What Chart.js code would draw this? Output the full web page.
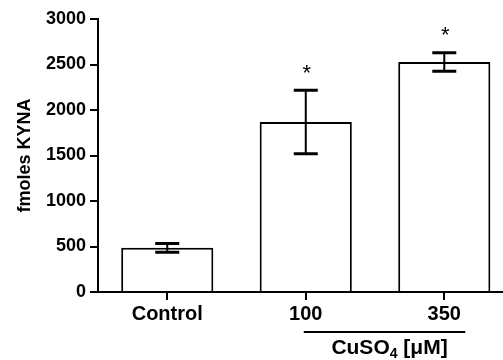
<!DOCTYPE html>
<html>
<head>
<meta charset="utf-8">
<title>KYNA</title>
<script src="https://cdn.jsdelivr.net/npm/chart.js@4.4.1/dist/chart.umd.min.js"></script>
<style>
  body { margin: 0; background: #fff; }
  #wrap { width: 503px; height: 360px; position: relative; }
</style>
</head>
<body>
<div id="wrap"><canvas id="kynaChart"></canvas></div>
<script>
const categories = ['Control', '100', '350'];
const means = [485, 1867, 2527];
const errors = [47, 349, 102];
const significance = ['', '*', '*'];
const yTicks = [0, 500, 1000, 1500, 2000, 2500, 3000];

const fontFamily = "'Liberation Sans', Arial, sans-serif";

// error bars + asterisks, drawn from the scales
const errorBars = {
    id: 'errorBars',
    afterDatasetsDraw(chart) {
        const { ctx, scales: { x, y } } = chart;
        ctx.save();
        ctx.strokeStyle = '#000';
        means.forEach((m, i) => {
            const px = x.getPixelForValue(i);
            const top = y.getPixelForValue(m + errors[i]);
            const bottom = y.getPixelForValue(m - errors[i]);

            ctx.lineWidth = 2;
            ctx.beginPath();
            ctx.moveTo(px, top);
            ctx.lineTo(px, bottom);
            ctx.stroke();

            ctx.lineWidth = 3;
            ctx.beginPath();
            ctx.moveTo(px - 12, top);
            ctx.lineTo(px + 12, top);
            ctx.moveTo(px - 12, bottom);
            ctx.lineTo(px + 12, bottom);
            ctx.stroke();

            if (significance[i]) {
                ctx.fillStyle = '#000';
                ctx.font = '22px ' + fontFamily;
                ctx.textAlign = 'center';
                ctx.textBaseline = 'alphabetic';
                ctx.fillText(significance[i], px + 1, top - 23 + 12.5);
            }
        });
        ctx.restore();
    }
};

// line under the two dose groups and the CuSO4 label
const doseLabel = {
    id: 'doseLabel',
    afterDraw(chart) {
        const { ctx, scales: { x }, chartArea } = chart;
        const x1 = x.getPixelForValue(1) - 2;
        const x2 = x.getPixelForValue(2) + 21;
        const lineY = chartArea.bottom + 40;

        ctx.save();
        ctx.strokeStyle = '#000';
        ctx.lineWidth = 2;
        ctx.beginPath();
        ctx.moveTo(x1, lineY);
        ctx.lineTo(x2, lineY);
        ctx.stroke();

        const big = 'bold 21px ' + fontFamily;
        const small = 'bold 14px ' + fontFamily;
        ctx.font = big;
        const w1 = ctx.measureText('CuSO').width;
        const w3 = ctx.measureText(' [\u03BCM]').width;
        ctx.font = small;
        const w2 = ctx.measureText('4').width;
        let tx = (x1 + x2) / 2 + 5 - (w1 + w2 + w3) / 2;
        const base = lineY + 22;

        ctx.fillStyle = '#000';
        ctx.textAlign = 'left';
        ctx.textBaseline = 'alphabetic';
        ctx.font = big;
        ctx.fillText('CuSO', tx, base);
        tx += w1;
        ctx.font = small;
        ctx.fillText('4', tx, base + 4);
        tx += w2;
        ctx.font = big;
        ctx.fillText(' [\u03BCM]', tx, base);
        ctx.restore();
    }
};

const ctx = document.getElementById('kynaChart').getContext('2d');

new Chart(ctx, {
    type: 'bar',
    data: {
        datasets: [{
            data: means.map((m, i) => ({ x: i, y: m })),
            backgroundColor: '#fff',
            borderColor: '#000',
            borderWidth: 2,
            barPercentage: 0.665,
            categoryPercentage: 1
        }]
    },
    options: {
        responsive: true,
        maintainAspectRatio: false,
        animation: false,
        layout: { padding: { top: 19, left: 0, right: 0, bottom: 0 } },
        plugins: {
            legend: { display: false },
            tooltip: { enabled: false }
        },
        scales: {
            x: {
                type: 'linear',
                offset: false,
                min: -0.5,
                max: 2.424,
                afterBuildTicks: axis => {
                    axis.ticks = categories.map((c, i) => ({ value: i }));
                },
                afterFit: axis => { axis.height = 68; },
                border: { display: true, color: '#000', width: 2 },
                grid: {
                    offset: false,
                    drawOnChartArea: false,
                    drawTicks: true,
                    tickLength: 8,
                    color: '#000',
                    lineWidth: 2
                },
                ticks: {
                    autoSkip: false,
                    maxRotation: 0,
                    padding: 2,
                    color: '#000',
                    font: { family: fontFamily, size: 20, weight: 'bold' },
                    callback: value => categories[value]
                }
            },
            y: {
                min: 0,
                max: 3000,
                afterBuildTicks: axis => {
                    axis.ticks = yTicks.map(v => ({ value: v }));
                },
                afterFit: axis => { axis.width = 98; },
                border: { display: true, color: '#000', width: 2 },
                grid: {
                    drawOnChartArea: false,
                    drawTicks: true,
                    tickLength: 8,
                    color: '#000',
                    lineWidth: 2
                },
                ticks: {
                    padding: 4,
                    color: '#000',
                    font: { family: fontFamily, size: 18, weight: 'bold' },
                    callback: value => String(value)
                },
                title: {
                    display: true,
                    text: 'fmoles KYNA',
                    color: '#000',
                    padding: { top: 14, bottom: 0 },
                    font: { family: fontFamily, size: 18, weight: 'bold' }
                }
            }
        }
    },
    plugins: [errorBars, doseLabel]
});
</script>
</body>
</html>
